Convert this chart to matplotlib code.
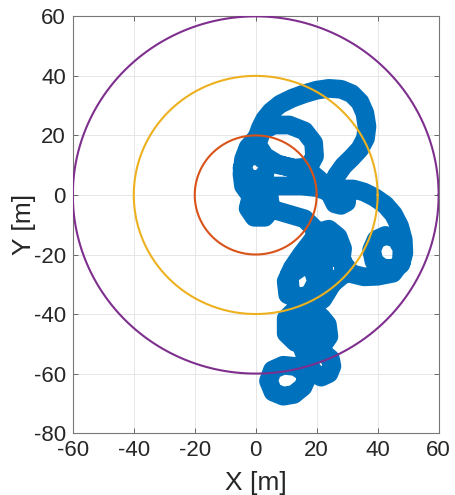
import numpy as np
import matplotlib.pyplot as plt

# trajectory waypoints (m), split by leg
leg_start = [(2, -3.5), (4.5, -1), (5, -5), (3, -7.5), (-0.5, -7.5), (-2.5, -4.5), (-1.5, -0.5), (-4, 3),
             (-4.5, 7), (-4, 12), (-2.5, 16), (0.5, 19.5)]
leg_outer = [(1.5, 22.5), (3, 25.5), (5, 28), (8, 30.5), (12, 32.5), (16, 34), (20, 35.2), (24, 35.8),
             (28, 35.5), (31.5, 34), (34.2, 31.2), (35.8, 27.5), (36.5, 23), (36, 19), (34.2, 15.5),
             (31.5, 12.5), (28.8, 9.8), (26.5, 6.5), (25, 3), (24.8, -0.5), (26, -3), (28, -3.5),
             (29.8, -2.5), (30, 0), (28.5, 2)]
leg_east = [(32, 2), (35.5, 1), (39, -0.8), (42.5, -3.3), (45.2, -6.5), (47.2, -10.5), (48.4, -15),
            (48.6, -19.5), (47.6, -23.3), (44.8, -24.8), (41.5, -24.5), (38.8, -22.3), (38, -18.5),
            (39.5, -15), (42.5, -13.6), (46, -14.5), (48, -18), (47.8, -22.5), (45, -26.3), (40, -27.3),
            (35.5, -27.5), (31.5, -26.5)]
leg_south = [(28, -22), (28.5, -18), (27, -14), (24, -11.5), (20.5, -12.5), (18, -16), (15, -20),
             (12, -24.5), (10, -29), (10.5, -33.5), (14, -35), (18, -33), (20, -29), (18.5, -24.5),
             (21, -22.5), (25, -20.5), (28.5, -22), (29, -26.5), (26, -29), (22.5, -27), (22, -23), (24, -17),
             (22, -15), (19, -19), (16, -23.5), (11, -27), (11.3, -31.5), (13, -34.5), (17.5, -34), (22, -32),
             (25, -30), (22, -35), (18, -38), (13, -38.5), (10, -41.5), (10, -46.5), (13, -49.5), (17, -49),
             (19, -45), (16, -42), (12.5, -43.5), (14, -47), (19, -48), (22, -45), (21.5, -41), (23.5, -43.5),
             (24, -47.5), (22, -50.5), (20, -53)]
leg_loops = [(22.5, -53.3), (24.5, -55), (25, -57.5), (24, -60), (21.5, -61.2), (19.2, -60), (18.5, -58.5),
             (17, -61), (15.5, -64.5), (12.5, -67), (9, -67.6), (5.7, -66.2), (4.2, -62.5), (5.5, -58.8),
             (9, -57.2), (13, -57.6), (15.8, -59.5), (17, -56), (15.5, -52)]
leg_return = [(14, -45), (14, -40), (20, -36), (22.5, -29), (21.5, -20), (19, -11), (16, -8), (11, -6.5),
              (6, -5), (2, -3), (1, 1), (5, 3), (10, 3), (15, 3), (20, 2.5), (24, 1), (21, 5), (17.5, 8),
              (12, 9), (7, 10.5), (3, 13), (0.5, 17), (2, 21.5), (6, 23.5), (11, 23.5), (16, 21.5), (19, 17.5),
              (19.3, 13), (17.5, 9.5), (13, 9), (8, 10), (3.5, 11), (0.5, 13.5), (-3, 12.5), (-4.5, 9),
              (-2.5, 5.5), (1.5, 5), (3, 7)]

radii = [20, 40, 60]
ring_colors = ['#D95319', '#EDB120', '#7E2F8E']

track = np.array(leg_start + leg_outer + leg_east + leg_south + leg_loops + leg_return)

plt.rcParams['font.family'] = ['Liberation Sans', 'DejaVu Sans']
plt.rcParams['axes.unicode_minus'] = False

fig = plt.figure(figsize=(4.55, 4.95), dpi=100)
ax = fig.add_axes([0.160, 0.125, 0.804, 0.842])

ax.plot(track[:, 0], track[:, 1], color='#0072BD', lw=13.5, solid_joinstyle='round',
        solid_capstyle='round', zorder=2)

t = np.linspace(0, 2 * np.pi, 400)
for r, c in zip(radii, ring_colors):
    ax.plot(r * np.cos(t), r * np.sin(t), color=c, lw=1.5, zorder=3)

ax.set_xlim(-60, 60)
ax.set_ylim(-80, 60)
ax.set_xticks(range(-60, 61, 20))
ax.set_yticks(range(-80, 61, 20))
ax.grid(True, color='#e6e6e6', lw=0.7)
ax.set_axisbelow(True)
ax.tick_params(direction='in', length=3.5, width=0.6, color='#555555', labelsize=16,
               labelcolor='#262626', top=True, right=True)
ax.tick_params(axis='x', pad=5)
ax.tick_params(axis='y', pad=5)
for s in ax.spines.values():
    s.set_color('#777777')
    s.set_linewidth(0.8)

ax.set_xlabel('X [m]', fontsize=19, color='#262626', va='center')
ax.set_ylabel('Y [m]', fontsize=19, color='#262626', va='center')
ax.xaxis.set_label_coords(0.5, -0.12)
ax.yaxis.set_label_coords(-0.134, 0.5)

fig.savefig('out.png', dpi=100)
